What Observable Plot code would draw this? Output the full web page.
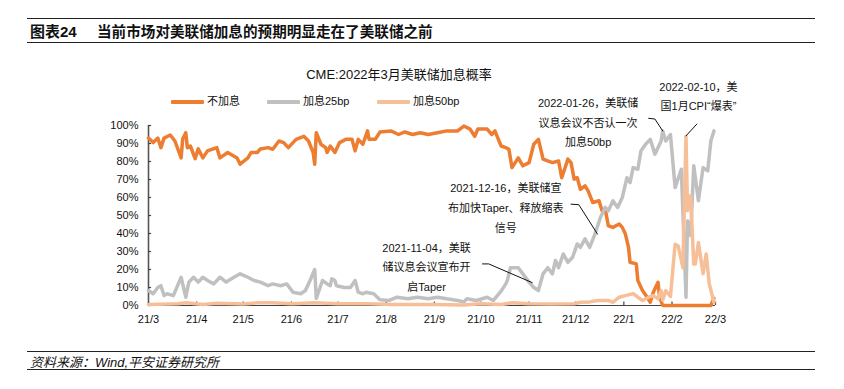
<!DOCTYPE html>
<html><head><meta charset="utf-8">
<script src="https://cdn.jsdelivr.net/npm/d3@7"></script>
<script src="https://cdn.jsdelivr.net/npm/@observablehq/plot@0.6"></script>
<style>
html,body{margin:0;padding:0;background:#fff;}
body{width:844px;height:389px;position:relative;overflow:hidden;font-family:"Liberation Sans","Noto Sans CJK SC",sans-serif;color:#111;}
.abs{position:absolute;white-space:nowrap;}
#chart{position:absolute;left:0;top:0;}
.rule{position:absolute;left:27px;width:788px;height:0;border-top:1px solid #222;}
.sw{position:absolute;width:33px;height:4px;border-radius:1px;}
.lg{position:absolute;font-size:11px;line-height:15px;white-space:nowrap;color:#111;}
</style></head><body>
<div id="chart"></div>
<div class="rule" style="top:18px"></div>
<div class="abs" style="left:30px;top:23px;font-size:15px;line-height:18px;font-weight:bold;">图表24</div>
<div class="abs" style="left:97px;top:23px;font-size:14.6px;line-height:18px;font-weight:bold;">当前市场对美联储加息的预期明显走在了美联储之前</div>
<div class="rule" style="top:42px"></div>
<div class="abs" style="left:0;width:798px;text-align:center;top:66px;font-size:13px;line-height:18px;">CME:2022年3月美联储加息概率</div>
<div class="sw" style="left:171px;top:100px;background:#ED7D31"></div>
<div class="lg" style="left:207px;top:94px">不加息</div>
<div class="sw" style="left:267px;top:100px;background:#C0C0C0"></div>
<div class="lg" style="left:303px;top:94px">加息25bp</div>
<div class="sw" style="left:377px;top:100px;background:#F7BF97"></div>
<div class="lg" style="left:413px;top:94px">加息50bp</div>
<div class="rule" style="top:351px"></div>
<div class="abs" style="left:30px;top:355px;font-size:13px;line-height:15px;font-style:italic;">资料来源：Wind,平安证券研究所</div>
<div class="rule" style="top:369px;border-top-width:1.5px"></div>
<script>
// ---- data ----
const noHikeDates = ["2021-03-01","2021-03-04","2021-03-07","2021-03-09","2021-03-11","2021-03-15","2021-03-18","2021-03-22","2021-03-23","2021-03-25","2021-03-26","2021-03-28","2021-03-31","2021-04-02","2021-04-05","2021-04-08","2021-04-14","2021-04-16","2021-04-21","2021-04-27","2021-04-29","2021-05-04","2021-05-06","2021-05-10","2021-05-12","2021-05-17","2021-05-20","2021-05-24","2021-05-27","2021-05-30","2021-06-04","2021-06-09","2021-06-12","2021-06-15","2021-06-16","2021-06-17","2021-06-20","2021-06-23","2021-06-24","2021-06-26","2021-06-29","2021-07-02","2021-07-06","2021-07-10","2021-07-12","2021-07-14","2021-07-17","2021-07-20","2021-07-21","2021-07-25","2021-07-28","2021-08-04","2021-08-09","2021-08-13","2021-08-18","2021-08-23","2021-08-28","2021-09-03","2021-09-09","2021-09-16","2021-09-20","2021-09-24","2021-09-27","2021-09-29","2021-10-05","2021-10-08","2021-10-10","2021-10-14","2021-10-17","2021-10-19","2021-10-21","2021-10-25","2021-10-28","2021-11-01","2021-11-04","2021-11-07","2021-11-10","2021-11-13","2021-11-16","2021-11-20","2021-11-22","2021-11-26","2021-11-28","2021-11-30","2021-12-02","2021-12-04","2021-12-07","2021-12-09","2021-12-12","2021-12-16","2021-12-18","2021-12-20","2021-12-22","2021-12-25","2021-12-29","2021-12-31","2022-01-02","2022-01-04","2022-01-05","2022-01-09","2022-01-10","2022-01-13","2022-01-16","2022-01-18","2022-01-20","2022-01-23","2022-01-24","2022-01-26","2022-01-31","2022-02-10","2022-02-20","2022-02-26","2022-02-28"];
const noHikeValues = [93,90.5,93,87.7,93,94.7,91.4,82,92.5,96,87.7,88.6,81.6,87,82,85.9,87.7,82,85,82,78.5,82,85,85,87,87.7,86.8,91.4,90.5,87.7,92.3,94,91.4,85,78.5,96,89.6,87.7,85,88.6,85,90.5,92.3,92.3,85.9,92.3,89.6,97,92.3,92.3,96.4,97,95,96.4,95,96,95,96,97,97,99.7,98,94,98,98,95,97,88.6,87.7,86.8,76.6,82,77.6,79.4,89.6,92.3,81.3,80.3,79.4,80.3,71,81.3,79.4,70.2,71,64.6,66.5,63.7,57.2,58.2,52.6,53.6,44.3,43.4,45.3,43.4,39.7,32.3,24,23.1,13.9,8.3,4.6,1.8,7.4,12.9,4.6,0,0,0,0,0,4];

const hike25Dates = ["2021-03-01","2021-03-04","2021-03-07","2021-03-09","2021-03-11","2021-03-13","2021-03-17","2021-03-22","2021-03-25","2021-03-27","2021-03-30","2021-04-02","2021-04-05","2021-04-08","2021-04-12","2021-04-16","2021-04-20","2021-04-25","2021-04-29","2021-05-04","2021-05-08","2021-05-12","2021-05-17","2021-05-20","2021-05-25","2021-05-29","2021-06-02","2021-06-07","2021-06-10","2021-06-13","2021-06-16","2021-06-17","2021-06-21","2021-06-24","2021-06-26","2021-06-27","2021-06-29","2021-06-30","2021-07-05","2021-07-09","2021-07-12","2021-07-14","2021-07-17","2021-07-19","2021-07-24","2021-07-28","2021-08-03","2021-08-08","2021-08-15","2021-08-21","2021-08-28","2021-09-03","2021-09-09","2021-09-16","2021-09-20","2021-09-22","2021-09-28","2021-10-05","2021-10-09","2021-10-14","2021-10-17","2021-10-18","2021-10-20","2021-10-25","2021-10-28","2021-11-01","2021-11-04","2021-11-07","2021-11-10","2021-11-13","2021-11-16","2021-11-18","2021-11-20","2021-11-23","2021-11-26","2021-11-29","2021-12-02","2021-12-04","2021-12-07","2021-12-10","2021-12-13","2021-12-17","2021-12-20","2021-12-22","2021-12-25","2021-12-28","2021-12-31","2022-01-03","2022-01-05","2022-01-07","2022-01-10","2022-01-12","2022-01-15","2022-01-18","2022-01-21","2022-01-25","2022-01-26","2022-01-28","2022-01-31","2022-02-03","2022-02-07","2022-02-10","2022-02-11","2022-02-13","2022-02-15","2022-02-18","2022-02-21","2022-02-24","2022-02-26","2022-02-28"];
const hike25Values = [8.3,6.5,10,11,5.5,6.5,5.5,15.7,4.6,13,15.7,13,15.7,13.9,12,15.7,13,15.7,17.6,15.7,13.9,13,11,12,11,12,7.4,6.5,8.3,13.9,20,4,13.9,12,11,14.8,13.9,11,10,10,13.9,7.4,6.5,7.4,6.5,3.2,2.8,4.6,3.7,4.6,3.7,4.6,3.7,2.8,2,3.7,2.8,4.6,2.8,8,12,13.9,21,21,17.6,13,10,8.3,17.6,21,17.6,25,21,28.6,24,26.8,34.2,32.3,37,32.3,38.8,49,54.5,52.6,58.2,54.5,60,71,68.3,76.6,75.7,85.9,89.6,92.3,84,91.4,97,91.4,95,65.5,75.7,4.6,47,38.8,77.6,58.2,76.6,74.8,91.4,97];

const hike50Dates = ["2021-03-01","2021-03-20","2021-03-25","2021-04-05","2021-04-14","2021-05-01","2021-05-10","2021-05-20","2021-06-01","2021-06-16","2021-07-01","2021-07-20","2021-08-05","2021-09-01","2021-09-20","2021-10-01","2021-10-14","2021-10-21","2021-11-01","2021-11-15","2021-11-30","2021-12-04","2021-12-10","2021-12-15","2021-12-22","2021-12-25","2021-12-29","2022-01-02","2022-01-07","2022-01-10","2022-01-13","2022-01-17","2022-01-20","2022-01-23","2022-01-25","2022-01-26","2022-01-28","2022-01-31","2022-02-03","2022-02-05","2022-02-07","2022-02-08","2022-02-10","2022-02-11","2022-02-13","2022-02-15","2022-02-16","2022-02-18","2022-02-21","2022-02-23","2022-02-25","2022-02-28"];
const hike50Values = [0.5,1,1.5,0.5,1.2,0.8,1.5,1.5,1,1.5,1,1,0.5,0.5,0.3,1,0.5,1.5,1,0.8,1,1.8,2,2.8,2.8,1.8,4.6,5.5,6.6,4.6,2.8,4.6,5.5,3.7,8.3,3,8.3,5,34,33,25,21,94,52.6,61,23,23,35,17.7,28.6,12,1.8];

const seriesNames = ["不加息","加息25bp","加息50bp"];
const seriesColors = ["#ED7D31","#C0C0C0","#F7BF97"];

const xTickDates = ["2021-03-01","2021-04-01","2021-05-01","2021-06-01","2021-07-01","2021-08-01","2021-09-01","2021-10-01","2021-11-01","2021-12-01","2022-01-01","2022-02-01","2022-03-01"];
const xTickLabels = ["21/3","21/4","21/5","21/6","21/7","21/8","21/9","21/10","21/11","21/12","22/1","22/2","22/3"];
const yTicks = [0,10,20,30,40,50,60,70,80,90,100];

const annoDates = ["2021-12-09","2022-02-18","2021-10-17","2021-08-27"];
const annoValues = [102.9,117.3,55.4,22.5];
const annoLabels = ["2022-01-26，美联储\n议息会议不否认一次\n加息50bp","2022-02-10，美\n国1月CPI“爆表”","2021-12-16，美联储宣\n布加快Taper、释放缩表\n信号","2021-11-04，美联\n储议息会议宣布开\n启Taper"];

const leaderIds = [0,0,0,1,1,2,2,2,3,3,3];
const leaderDates = ["2022-01-17","2022-01-21","2022-01-26","2022-02-17","2022-02-10","2021-11-28","2021-12-03","2021-12-15","2021-10-02","2021-10-06","2021-11-03"];
const leaderValues = [104,103.6,97,100.8,94.2,56.3,56,39.7,23.1,23.1,12.7];

// ---- build ----
const D = s => new Date(s + "T00:00:00Z");
const mk = (ds, vs) => ds.map((d, i) => ({date: D(d), value: vs[i]}));
const rows = [mk(noHikeDates, noHikeValues), mk(hike25Dates, hike25Values), mk(hike50Dates, hike50Values)];
const ticks = xTickDates.map(D);
const labelMap = new Map(ticks.map((d, i) => [+d, xTickLabels[i]]));
const xStart = ticks[0], xEnd = ticks[ticks.length - 1];
const tickEnd = D("2021-03-03");
const annos = annoDates.map((d, i) => ({date: D(d), value: annoValues[i], label: annoLabels[i]}));
const leaders = leaderDates.map((d, i) => ({id: leaderIds[i], date: D(d), value: leaderValues[i]}));
const font = '"Liberation Sans","Noto Sans CJK SC",sans-serif';

const chart = Plot.plot({
  width: 844, height: 389,
  marginTop: 125, marginBottom: 84, marginLeft: 148, marginRight: 129,
  style: {fontFamily: font, fontSize: "11px", color: "#111", background: "transparent", overflow: "visible"},
  x: {type: "utc", domain: [xStart, xEnd]},
  y: {domain: [0, 100]},
  marks: [
    Plot.ruleY([0], {stroke: "#444", strokeWidth: 1.2}),
    Plot.ruleX(ticks, {y1: 0, y2: 2, stroke: "#444", strokeWidth: 1.2}),
    Plot.ruleX([xStart], {y1: 0, y2: 100, stroke: "#555", strokeWidth: 1.6}),
    Plot.ruleY(yTicks, {x1: () => xStart, x2: () => tickEnd, stroke: "#444", strokeWidth: 1.2}),
    Plot.axisY({ticks: yTicks, tickFormat: d => d + "%", tickSize: 0, tickPadding: 10, label: null, fontSize: 11}),
    Plot.axisX({ticks: ticks, tickFormat: d => labelMap.get(+d), tickSize: 0, tickPadding: 10, label: null, fontSize: 11}),
    Plot.line(rows[0], {x: "date", y: "value", stroke: seriesColors[0], strokeWidth: 3.5, strokeLinejoin: "round"}),
    Plot.line(rows[1], {x: "date", y: "value", stroke: seriesColors[1], strokeWidth: 3.5, strokeLinejoin: "round"}),
    Plot.line(rows[2], {x: "date", y: "value", stroke: seriesColors[2], strokeWidth: 3.5, strokeLinejoin: "round"}),
    Plot.line(leaders, {x: "date", y: "value", z: "id", stroke: "#111", strokeWidth: 1}),
    Plot.text(annos, {x: "date", y: "value", text: "label", fontSize: 11, lineHeight: 1.78, fill: "#111"})
  ]
});
document.getElementById("chart").appendChild(chart);
</script>
</body></html>
